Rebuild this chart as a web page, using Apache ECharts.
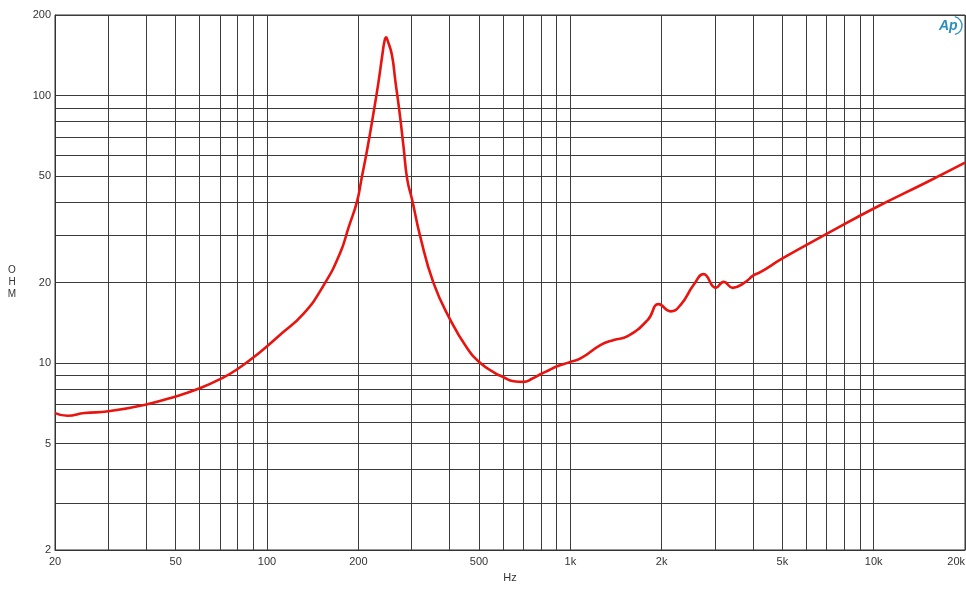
<!DOCTYPE html>
<html>
<head>
<meta charset="utf-8">
<script src="https://cdn.jsdelivr.net/npm/echarts@6/dist/echarts.min.js"></script>
<style>html,body{margin:0;padding:0;background:#fff}#c{width:966px;height:600px}</style>
</head>
<body>
<div id="c"></div>
<script>
const freqHz = [20, 22, 25, 30, 40, 50, 60, 70, 80, 95, 110, 132, 154, 174, 186, 198, 205, 214, 224, 233, 240, 244, 247, 250, 258, 265, 274, 282, 290, 301, 320, 354, 402, 457, 505, 566, 600, 650, 700, 750, 800, 850, 900, 1000, 1080, 1260, 1390, 1545, 1800, 1955, 2140, 2310, 2550, 2750, 3015, 3200, 3430, 3730, 4025, 4244, 5003, 7044, 10040, 15064, 20000];
const impedanceOhm = [6.5, 6.35, 6.5, 6.6, 7.0, 7.5, 8.05, 8.7, 9.5, 11.0, 12.7, 15.3, 19.6, 25.7, 32.3, 40.1, 49, 63, 85, 112, 142, 160, 165, 160, 142, 113, 85, 64, 48.5, 40.7, 29.7, 19.9, 14.5, 11.35, 10.0, 9.15, 8.87, 8.55, 8.5, 8.75, 9.1, 9.4, 9.7, 10.1, 10.4, 11.7, 12.2, 12.6, 14.5, 16.6, 15.6, 16.5, 19.6, 21.5, 19.1, 20.1, 19.1, 19.9, 21.3, 21.9, 24.6, 30.5, 37.9, 47.6, 56.1];
const xGrid = [20,30,40,50,60,70,80,90,100,200,300,400,500,600,700,800,900,1000,2000,3000,4000,5000,6000,7000,8000,9000,10000,20000];
const xLabels = [20,50,100,200,500,1000,2000,5000,10000,20000];
const yGrid = [2,3,4,5,6,7,8,9,10,20,30,40,50,60,70,80,90,100,200];
const yLabels = [2,5,10,20,50,100,200];

const chart = echarts.init(document.getElementById('c'));
const gridColor = '#3c3c3c';
chart.setOption({
  animation: false,
  grid: {left: 55, right: 1, top: 15, bottom: 50, outerBoundsMode: 'none', containLabel: false, show: true, borderColor: '#333', borderWidth: 1},
  xAxis: {
    type: 'log', min: 20, max: 20000, logBase: 10,
    name: 'Hz', nameLocation: 'middle', nameGap: 22,
    nameTextStyle: {fontFamily: 'Arial, Liberation Sans', fontSize: 11, color: '#333'},
    axisLine: {show: true, lineStyle: {color: '#333'}},
    axisTick: {show: false, customValues: xGrid},
    splitLine: {show: true, lineStyle: {color: gridColor, width: 1}},
    minorSplitLine: {show: false},
    axisLabel: {
      customValues: xLabels, margin: 6, hideOverlap: false, alignMaxLabel: 'right',
      fontFamily: 'Arial, Liberation Sans', fontSize: 11, color: '#333',
      formatter: v => v >= 1000 ? (v/1000) + 'k' : String(v)
    }
  },
  yAxis: {
    type: 'log', min: 2, max: 200, logBase: 10,
    name: 'O\nH\nM', nameLocation: 'middle', nameRotate: 0, nameGap: 43,
    nameTextStyle: {fontFamily: 'Arial, Liberation Sans', fontSize: 10, color: '#333', lineHeight: 12, align: 'center'},
    axisLine: {show: true, lineStyle: {color: '#333'}},
    axisTick: {show: false, customValues: yGrid},
    splitLine: {show: true, lineStyle: {color: gridColor, width: 1}},
    axisLabel: {
      customValues: yLabels, margin: 4, hideOverlap: false,
      fontFamily: 'Arial, Liberation Sans', fontSize: 11, color: '#333'
    }
  },
  graphic: [
    {type: 'text', left: 939, top: 19, style: {text: 'Ap', fontFamily: 'Arial, Liberation Sans', fontStyle: 'italic', fontWeight: 'bold', fontSize: 14, fill: '#2a8fbf'}},
    {type: 'arc', shape: {cx: 953, cy: 25.5, r: 9, startAngle: -Math.PI/2.3, endAngle: Math.PI/2.3}, style: {stroke: '#2a8fbf', lineWidth: 1.3, fill: 'none'}}
  ],
  series: [{
    type: 'line',
    data: freqHz.map((f, i) => [f, impedanceOhm[i]]),
    showSymbol: false,
    smooth: 0.5,
    lineStyle: {color: '#e8140f', width: 2.6},
    clip: true
  }]
});
</script>
</body>
</html>
